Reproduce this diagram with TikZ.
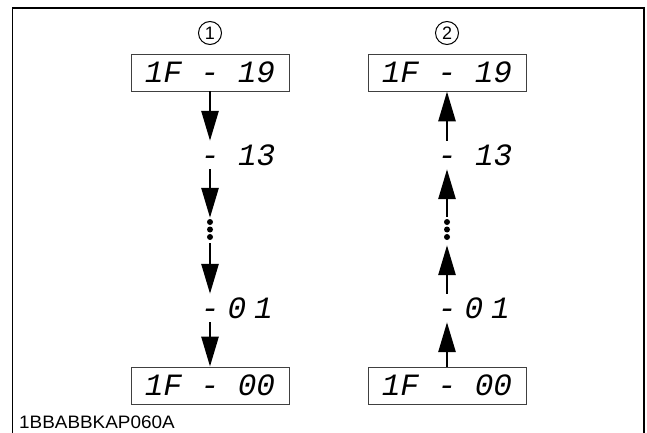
\documentclass[tikz,border=0pt]{standalone}
\usepackage{graphicx}
\usepackage{fontspec}
\setmainfont{Liberation Sans}
\newfontfamily\segfont{Liberation Mono}
\usetikzlibrary{arrows.meta}

\tikzset{
  display/.style={draw=black!75, line width=0.9pt, minimum width=158pt, minimum height=37pt, inner sep=0pt,
    font=\segfont\itshape\fontsize{31}{31}\selectfont},
  readout/.style={inner sep=0pt, minimum height=28pt, anchor=west,
    font=\segfont\itshape\fontsize{31}{31}\selectfont},
  stepno/.style={circle, draw, line width=1pt, inner sep=0pt, minimum size=23pt, font=\fontsize{18}{18}\selectfont},
  seqdot/.style={circle, fill, inner sep=0pt, minimum size=6pt},
  flow/.style={line width=2.8pt, -{Triangle[length=30pt,width=17pt]}},
}

\begin{document}
\begin{tikzpicture}[x=1pt, y=-1pt]
            \useasboundingbox (0,0) rectangle (647,433);
            \draw[line width=1.6pt] (12.5,433) -- (12.5,8) -- (644,8) -- (644,433);
            \node[stepno] (numA) at (210,33) {1};
            \node[stepno] (numB) at (447,33) {2};
            \node[display] (topA) at (210,72.5) {1F - 19};
            \node[display] (topB) at (447,72.5) {1F - 19};
            \node[display] (botA) at (210,385.5) {1F - 00};
            \node[display] (botB) at (447,385.5) {1F - 00};
            \node[readout] (midA) at (200.7,155) {- 13};
            \node[readout] (midB) at (437.7,155) {- 13};
            \node[readout] (lowA) at (200.7,308) {-\kern8pt0\kern8pt1};
            \node[readout] (lowB) at (437.7,308) {-\kern8pt0\kern8pt1};
            \node[seqdot] (dA1) at (210,222) {};
            \node[seqdot] (dA2) at (210,229.5) {};
            \node[seqdot] (dA3) at (210,237) {};
            \node[seqdot] (dB1) at (447,222) {};
            \node[seqdot] (dB2) at (447,229.5) {};
            \node[seqdot] (dB3) at (447,237) {};
            \draw[flow] (topA.south) -- (topA.south |- midA.north);
            \draw[flow, shorten >=1pt] (topA.south |- midA.south) -- (dA1.north);
            \draw[flow, shorten <=3pt] (dA3.south) -- (botA.north |- lowA.north);
            \draw[flow] (botA.north |- lowA.south) -- (botA.north);
            \draw[flow] (topB.south |- midB.north) -- (topB.south);
            \draw[flow, shorten <=2pt] (dB1.north) -- (topB.south |- midB.south);
            \draw[flow, shorten >=5pt] (botB.north |- lowB.north) -- (dB3.south);
            \draw[flow] (botB.north) -- (botB.north |- lowB.south);
            \node[anchor=south west, inner sep=0pt, font=\fontsize{18}{18}\selectfont] (code) at (19,429)
              {\scalebox{1.05}[1]{1BBABBKAP060A}};
        \end{tikzpicture}
\end{document}
